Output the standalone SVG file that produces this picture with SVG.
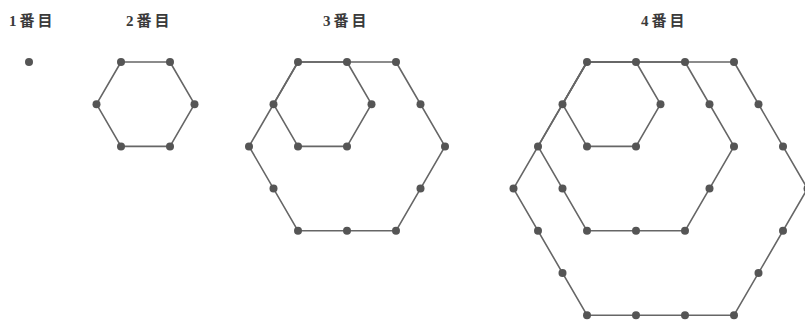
<svg xmlns="http://www.w3.org/2000/svg" width="805" height="320" viewBox="0 0 805 320">
<style>
.lbl{font-family:"Liberation Serif","Noto Sans CJK JP",serif;font-size:15px;font-weight:bold;fill:#3a3a3a;letter-spacing:3px}
.hex{fill:none;stroke:#666;stroke-width:1.6;stroke-linejoin:round}
.dot{fill:#555}
</style>
<rect width="805" height="320" fill="#fff"/>
<g id="labels">
<text class="lbl" x="9" y="26">1番目</text>
<text class="lbl" x="126" y="26">2番目</text>
<text class="lbl" x="323" y="26">3番目</text>
<text class="lbl" x="641" y="26">4番目</text>
</g>
<g id="connectors">
<polygon class="hex" points="121,62 170,62 194.5,104.2 170,146.4 121,146.4 96.5,104.2"/>
<polygon class="hex" points="298,62 347,62 371.5,104.2 347,146.4 298,146.4 273.5,104.2"/>
<polygon class="hex" points="298,62 396,62 445,146.4 396,230.8 298,230.8 249,146.4"/>
<polygon class="hex" points="587,62 636,62 660.5,104.2 636,146.4 587,146.4 562.5,104.2"/>
<polygon class="hex" points="587,62 685,62 734,146.4 685,230.8 587,230.8 538,146.4"/>
<polygon class="hex" points="587,62 734,62 807.5,188.6 734,315.2 587,315.2 513.5,188.6"/>
</g>
<g id="fig1">
<circle class="dot" cx="29" cy="62" r="4"/>
</g>
<g id="fig2">
<circle class="dot" cx="121" cy="62" r="4"/>
<circle class="dot" cx="170" cy="62" r="4"/>
<circle class="dot" cx="194.5" cy="104.2" r="4"/>
<circle class="dot" cx="170" cy="146.4" r="4"/>
<circle class="dot" cx="121" cy="146.4" r="4"/>
<circle class="dot" cx="96.5" cy="104.2" r="4"/>
</g>
<g id="fig3">
<circle class="dot" cx="298" cy="62" r="4"/>
<circle class="dot" cx="347" cy="62" r="4"/>
<circle class="dot" cx="396" cy="62" r="4"/>
<circle class="dot" cx="420.5" cy="104.2" r="4"/>
<circle class="dot" cx="445" cy="146.4" r="4"/>
<circle class="dot" cx="420.5" cy="188.6" r="4"/>
<circle class="dot" cx="396" cy="230.8" r="4"/>
<circle class="dot" cx="347" cy="230.8" r="4"/>
<circle class="dot" cx="298" cy="230.8" r="4"/>
<circle class="dot" cx="273.5" cy="188.6" r="4"/>
<circle class="dot" cx="249" cy="146.4" r="4"/>
<circle class="dot" cx="273.5" cy="104.2" r="4"/>
<circle class="dot" cx="371.5" cy="104.2" r="4"/>
<circle class="dot" cx="347" cy="146.4" r="4"/>
<circle class="dot" cx="298" cy="146.4" r="4"/>
</g>
<g id="fig4">
<circle class="dot" cx="587" cy="62" r="4"/>
<circle class="dot" cx="636" cy="62" r="4"/>
<circle class="dot" cx="685" cy="62" r="4"/>
<circle class="dot" cx="734" cy="62" r="4"/>
<circle class="dot" cx="758.5" cy="104.2" r="4"/>
<circle class="dot" cx="783" cy="146.4" r="4"/>
<circle class="dot" cx="807.5" cy="188.6" r="4"/>
<circle class="dot" cx="783" cy="230.8" r="4"/>
<circle class="dot" cx="758.5" cy="273" r="4"/>
<circle class="dot" cx="734" cy="315.2" r="4"/>
<circle class="dot" cx="685" cy="315.2" r="4"/>
<circle class="dot" cx="636" cy="315.2" r="4"/>
<circle class="dot" cx="587" cy="315.2" r="4"/>
<circle class="dot" cx="562.5" cy="273" r="4"/>
<circle class="dot" cx="538" cy="230.8" r="4"/>
<circle class="dot" cx="513.5" cy="188.6" r="4"/>
<circle class="dot" cx="538" cy="146.4" r="4"/>
<circle class="dot" cx="562.5" cy="104.2" r="4"/>
<circle class="dot" cx="709.5" cy="104.2" r="4"/>
<circle class="dot" cx="734" cy="146.4" r="4"/>
<circle class="dot" cx="709.5" cy="188.6" r="4"/>
<circle class="dot" cx="685" cy="230.8" r="4"/>
<circle class="dot" cx="636" cy="230.8" r="4"/>
<circle class="dot" cx="587" cy="230.8" r="4"/>
<circle class="dot" cx="562.5" cy="188.6" r="4"/>
<circle class="dot" cx="660.5" cy="104.2" r="4"/>
<circle class="dot" cx="636" cy="146.4" r="4"/>
<circle class="dot" cx="587" cy="146.4" r="4"/>
</g>
</svg>
